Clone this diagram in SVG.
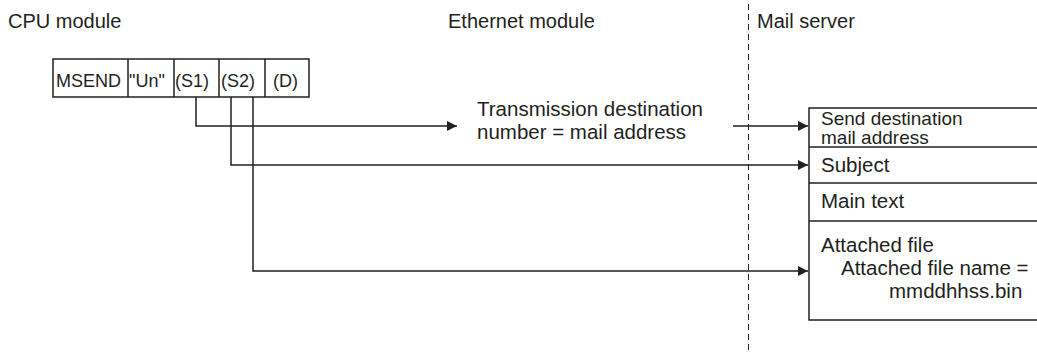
<svg xmlns="http://www.w3.org/2000/svg" width="1037" height="354" viewBox="0 0 1037 354">
<style>
text{font-family:"Liberation Sans",Arial,sans-serif;fill:#231f20}
.h{font-size:20px}
.t{font-size:20.5px}
.s{font-size:19px}
.i{font-size:18px}
.box{fill:#fff;stroke:#231f20;stroke-width:1.5}
.ln{fill:none;stroke:#231f20;stroke-width:1.5}
.c{fill:none;stroke:#231f20;stroke-width:1.5;marker-end:url(#ah)}
.d{fill:none;stroke:#231f20;stroke-width:1;stroke-dasharray:6 4}
</style>
<defs>
<marker id="ah" viewBox="0 0 10 10" refX="10" refY="5" markerWidth="10" markerHeight="10" markerUnits="userSpaceOnUse" orient="auto">
<path d="M0 0 L10 5 L0 10 Z" fill="#231f20"/>
</marker>
</defs>
<rect width="1037" height="354" fill="#fff"/>
<g id="labels">
<text class="h" x="8" y="28">CPU module</text>
<text class="h" x="448" y="28">Ethernet module</text>
<text class="h" x="757" y="28">Mail server</text>
</g>
<line id="divider" class="d" x1="748.5" y1="4" x2="748.5" y2="352"/>
<g id="instruction">
<rect class="box" x="53" y="59" width="256" height="38"/>
<line class="ln" x1="128" y1="59" x2="128" y2="97"/>
<line class="ln" x1="174" y1="59" x2="174" y2="97"/>
<line class="ln" x1="219" y1="59" x2="219" y2="97"/>
<line class="ln" x1="265" y1="59" x2="265" y2="97"/>
<text class="i" x="56" y="87">MSEND</text>
<text class="i" x="129" y="87">"Un"</text>
<text class="i" x="175" y="87">(S1)</text>
<text class="i" x="221" y="87">(S2)</text>
<text class="i" x="273" y="87">(D)</text>
</g>
<g id="ethernet-note">
<text class="t" x="477" y="116">Transmission destination</text>
<text class="t" x="477" y="139">number = mail address</text>
</g>
<g id="mail-box">
<rect class="box" x="809" y="108" width="240" height="212"/>
<line class="ln" x1="809" y1="147" x2="1037" y2="147"/>
<line class="ln" x1="809" y1="183" x2="1037" y2="183"/>
<line class="ln" x1="809" y1="221" x2="1037" y2="221"/>
<text class="s" x="821" y="125">Send destination</text>
<text class="s" x="821" y="144">mail address</text>
<text class="t" x="821" y="172">Subject</text>
<text class="t" x="821" y="208">Main text</text>
<text class="t" x="821" y="252">Attached file</text>
<text class="t" x="841" y="275">Attached file name =</text>
<text class="t" x="889" y="298">mmddhhss.bin</text>
</g>
<g id="connectors">
<path class="c" d="M196 97 V126 H457"/>
<path class="c" d="M733 126 H808"/>
<path class="c" d="M231 97 V165 H808"/>
<path class="c" d="M253 97 V271 H808"/>
</g>
</svg>
